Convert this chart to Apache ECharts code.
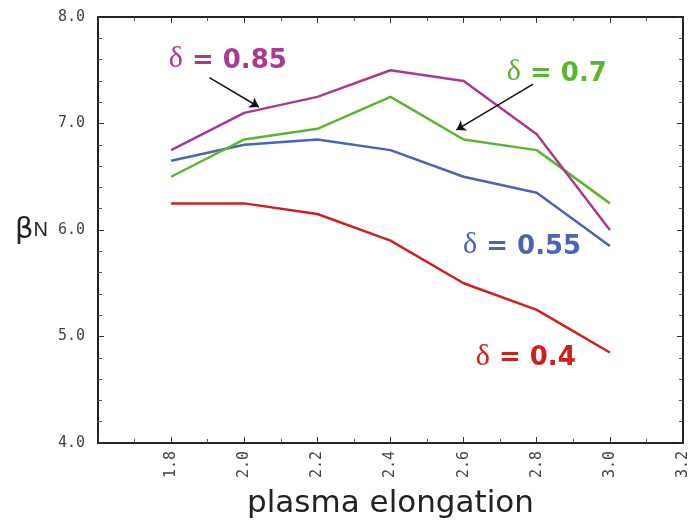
<!DOCTYPE html>
<html lang="en">
<head>
    <meta charset="UTF-8">
    <title>beta N vs plasma elongation</title>
    <script src="https://cdn.jsdelivr.net/npm/echarts@6/dist/echarts.min.js"></script>
    <style>
        html, body { margin: 0; padding: 0; background: #fff; }
        #chart { width: 694px; height: 520px; }
    </style>
</head>
<body>
    <div id="chart"></div>
    <script>
        // elongation values (x)
        var elongation = [1.8, 2.0, 2.2, 2.4, 2.6, 2.8, 3.0];
        // beta N for each triangularity
        var delta085 = [6.75, 7.1, 7.25, 7.5, 7.4, 6.9, 6.0];
        var delta070 = [6.5, 6.85, 6.95, 7.25, 6.85, 6.75, 6.25];
        var delta055 = [6.65, 6.8, 6.85, 6.75, 6.5, 6.35, 5.85];
        var delta040 = [6.25, 6.25, 6.15, 5.9, 5.5, 5.25, 4.85];

        var colors = { d085: '#a93a93', d070: '#5cb531', d055: '#4b64b3', d040: '#d0201e' };

        var chart = echarts.init(document.getElementById('chart'));

        function pairs(ys) {
            return elongation.map(function (x, i) { return [x, ys[i]]; });
        }

        // label text: delta in light serif, value bold
        function tag(text, color) {
            return {
                show: true,
                position: 'inside',
                formatter: '{d|δ}{b| = ' + text + '}',
                rich: {
                    d: { fontFamily: 'Liberation Serif', fontSize: 30, color: color, verticalAlign: 'bottom' },
                    b: { fontFamily: 'DejaVu Sans', fontWeight: 'bold', fontSize: 26, color: color, verticalAlign: 'bottom' }
                }
            };
        }

        function note(coord, text, color) {
            return {
                symbol: 'circle',
                symbolSize: 2,
                silent: true,
                itemStyle: { color: 'rgba(255,255,255,0)' },
                label: tag(text, color),
                data: [{ coord: coord }]
            };
        }

        function arrow(from, to) {
            return {
                silent: true,
                symbol: ['none', 'arrow'],
                symbolSize: 9,
                lineStyle: { color: '#111', width: 1.5, type: 'solid' },
                label: { show: false },
                data: [[{ coord: from }, { coord: to }]]
            };
        }

        function line(name, ys, color, extra) {
            var s = {
                name: name,
                type: 'line',
                data: pairs(ys),
                symbol: 'none',
                lineStyle: { color: color, width: 2.5 },
                itemStyle: { color: color },
                z: 3
            };
            for (var k in extra) s[k] = extra[k];
            return s;
        }

        var tickFont = { fontFamily: 'DejaVu Sans Mono', fontSize: 15, color: '#444' };

        var option = {
            backgroundColor: '#fff',
            animation: false,
            grid: { left: 98, right: 11, top: 17, bottom: 77, outerBoundsMode: 'none', containLabel: false },
            xAxis: [{
                type: 'value',
                min: 1.6, max: 3.2, interval: 0.2,
                name: 'plasma elongation',
                nameLocation: 'middle',
                nameGap: 45,
                nameTextStyle: { fontFamily: 'DejaVu Sans', fontSize: 31, color: '#222' },
                axisLine: { lineStyle: { color: '#222', width: 2 } },
                axisTick: { inside: true, length: 6, lineStyle: { color: '#333' } },
                minorTick: { show: true, splitNumber: 2, length: 4, lineStyle: { color: '#555' } },
                splitLine: { show: false },
                axisLabel: Object.assign({
                    rotate: 90, margin: 8,
                    formatter: function (v) { return (v === 1.6) ? '' : v.toFixed(1); }
                }, tickFont)
            }, {
                type: 'value', position: 'top',
                min: 1.6, max: 3.2, interval: 0.2,
                axisLine: { show: true, lineStyle: { color: '#222', width: 2 } },
                axisTick: { inside: true, length: 6, lineStyle: { color: '#333' } },
                minorTick: { show: true, splitNumber: 2, length: 4, lineStyle: { color: '#555' } },
                splitLine: { show: false },
                axisLabel: { show: false }
            }],
            yAxis: [{
                type: 'value',
                min: 4, max: 8, interval: 1,
                name: '{b|β}{n|N}',
                nameLocation: 'middle',
                nameRotate: 0,
                nameGap: 50,
                nameTextStyle: {
                    rich: {
                        b: { fontFamily: 'DejaVu Sans', fontSize: 29, color: '#222', verticalAlign: 'bottom' },
                        n: { fontFamily: 'Liberation Sans', fontSize: 20, color: '#222', verticalAlign: 'bottom', padding: [0, 0, 4, 0] }
                    }
                },
                axisLine: { show: true, lineStyle: { color: '#222', width: 2 } },
                axisTick: { inside: true, length: 6, lineStyle: { color: '#333' } },
                minorTick: { show: true, splitNumber: 5, length: 4, lineStyle: { color: '#555' } },
                splitLine: { show: false },
                axisLabel: Object.assign({
                    margin: 13,
                    formatter: function (v) { return v.toFixed(1); }
                }, tickFont)
            }, {
                type: 'value', position: 'right',
                min: 4, max: 8, interval: 1,
                axisLine: { show: true, lineStyle: { color: '#222', width: 2 } },
                axisTick: { inside: true, length: 6, lineStyle: { color: '#333' } },
                minorTick: { show: true, splitNumber: 5, length: 4, lineStyle: { color: '#555' } },
                splitLine: { show: false },
                axisLabel: { show: false }
            }],
            series: [
                line('δ = 0.4', delta040, colors.d040, {
                    markPoint: note([2.77, 4.81], '0.4', colors.d040)
                }),
                line('δ = 0.55', delta055, colors.d055, {
                    markPoint: note([2.76, 5.86], '0.55', colors.d055)
                }),
                line('δ = 0.7', delta070, colors.d070, {
                    markPoint: note([2.855, 7.48], '0.7', colors.d070),
                    markLine: arrow([2.79, 7.37], [2.58, 6.94])
                }),
                line('δ = 0.85', delta085, colors.d085, {
                    markPoint: note([1.955, 7.6], '0.85', colors.d085),
                    markLine: arrow([1.905, 7.43], [2.04, 7.155])
                })
            ]
        };

        chart.setOption(option);
    </script>
</body>
</html>
